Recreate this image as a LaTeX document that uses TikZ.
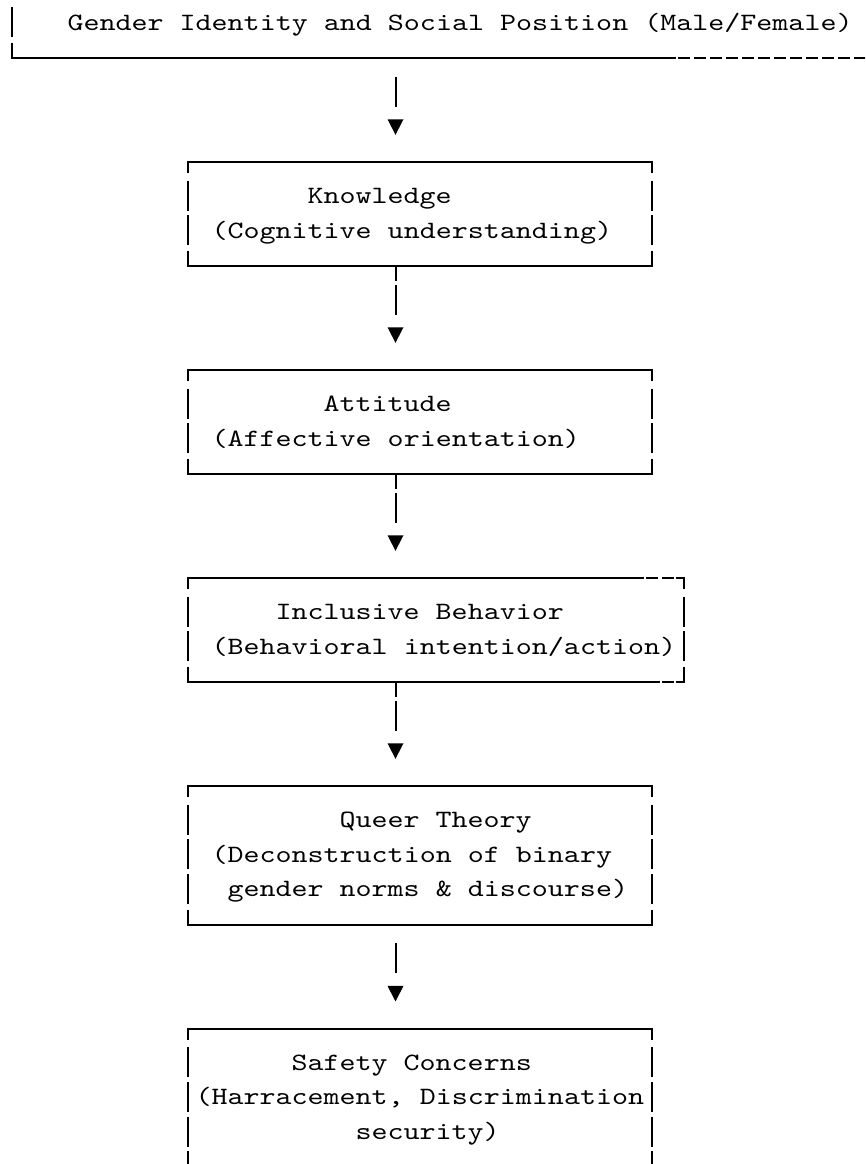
\documentclass[tikz,border=0pt]{standalone}
\usepackage{fontspec}
\newfontfamily\asciifont{lmmono10-regular.otf}[FakeStretch=1.224]
\usetikzlibrary{calc}
\tikzset{
  declare function={cx(\a)=16*\a+11.5; cs(\a)=16*\a+3.5; ry(\a)=23.3+34.667*\a;},
  frame/.style={line width=1.5pt, line cap=butt, draw=black},
  txt/.style={anchor=base west, inner sep=0pt, outer sep=0pt, text=black,
              font=\asciifont\fontsize{18.7}{20}\selectfont},
  tip/.style={fill=black},
}
% vertical sides of a box drawn with box characters: name, left col, right col, top row, bottom row
\newcommand\asciisides[5]{%
  \coordinate (#1-nw) at ({cx(#2)},{ry(#4)});
  \coordinate (#1-se) at ({cx(#3)},{ry(#5)});
  \foreach \xx in {#2,#3}{%
    \draw[frame] ({cx(\xx)},{ry(#4)-1}) -- ({cx(\xx)},{ry(#4)+11.5});
    \draw[frame] ({cx(\xx)},{ry(#5)-15}) -- ({cx(\xx)},{ry(#5)+1});
    \pgfmathtruncatemacro\ra{#4+1}\pgfmathtruncatemacro\rb{#5-1}
    \foreach \kk in {\ra,...,\rb}{\draw[frame] ({cx(\xx)},{ry(\kk)-16}) -- ({cx(\xx)},{ry(\kk)+14});}
  }%
}
% one hyphen in column #1 on row #2
\newcommand\hyph[2]{\draw[frame] ({cs(#1)+2},{ry(#2)}) -- ({cs(#1)+14},{ry(#2)});}
% connector: from coordinate, to coordinate, tee (1) or not (0)
\newcommand\conn[3]{%
  \ifnum#3=1 \draw[frame] (#1) -- ++(0,15);\fi
  \draw[frame] ($(#1)+(0,18.67)$) -- ++(0,30);
  \fill[tip] ($(#2)+(-8,-42.7)$) -- ++(16,0) -- ++(-8,15.5) -- cycle;
}
\begin{document}
\begin{tikzpicture}[x=0.75pt,y=-0.75pt]
\clip (0,0) rectangle (865,1164);
\useasboundingbox (0,0) rectangle (865,1164);

% ---------- Gender box (partly outside) ----------
\draw[frame] ({cx(0)},{ry(0)-16}) -- ({cx(0)},{ry(0)+14});
\draw[frame] ({cx(0)},{ry(1)-15}) -- ({cx(0)},{ry(1)}) -- ({cs(42)},{ry(1)});
\foreach \h in {42,...,53}{\hyph{\h}{1}}
\node[txt] (gender) at ({cs(4)},{ry(0)+7}) {Gender Identity and Social Position (Male/Female)};
\coordinate (g-out) at ({cx(24)},{ry(1)});

% ---------- Knowledge ----------
\asciisides{kn}{11}{40}{4}{7}
\draw[frame] ({cx(11)},{ry(4)}) -- ({cx(40)},{ry(4)});
\draw[frame] ({cx(11)},{ry(7)}) -- ({cx(40)},{ry(7)});
\node[txt] (kn1) at ({cs(19)},{ry(5)+7}) {Knowledge};
\node[txt] (kn2) at ({cs(13)},{ry(6)+7}) {(Cognitive understanding)};
\coordinate (kn-in) at ({cx(24)},{ry(4)});
\coordinate (kn-out) at ({cx(24)},{ry(7)});

% ---------- Attitude ----------
\asciisides{at}{11}{40}{10}{13}
\draw[frame] ({cx(11)},{ry(10)}) -- ({cx(40)},{ry(10)});
\draw[frame] ({cx(11)},{ry(13)}) -- ({cx(40)},{ry(13)});
\node[txt] (at1) at ({cs(20)},{ry(11)+7}) {Attitude};
\node[txt] (at2) at ({cs(13)},{ry(12)+7}) {(Affective orientation)};
\coordinate (at-in) at ({cx(24)},{ry(10)});
\coordinate (at-out) at ({cx(24)},{ry(13)});

% ---------- Inclusive Behavior ----------
\asciisides{ib}{11}{42}{16}{19}
\draw[frame] ({cx(11)},{ry(16)}) -- ({cs(40)},{ry(16)});
\hyph{40}{16}\hyph{41}{16}
\draw[frame] ({cs(42)},{ry(16)}) -- ({cx(42)+0.9},{ry(16)});
\draw[frame] ({cx(11)},{ry(19)}) -- ({cs(41)},{ry(19)});
\hyph{41}{19}
\draw[frame] ({cs(42)},{ry(19)}) -- ({cx(42)+0.9},{ry(19)});
\node[txt] (ib1) at ({cs(17)},{ry(17)+7}) {Inclusive Behavior};
\node[txt] (ib2) at ({cs(13)},{ry(18)+7}) {(Behavioral intention/action)};
\coordinate (ib-in) at ({cx(24)},{ry(16)});
\coordinate (ib-out) at ({cx(24)},{ry(19)});

% ---------- Queer Theory ----------
\asciisides{qt}{11}{40}{22}{26}
\draw[frame] ({cx(11)},{ry(22)}) -- ({cx(40)},{ry(22)});
\draw[frame] ({cx(11)},{ry(26)}) -- ({cx(40)},{ry(26)});
\node[txt] (qt1) at ({cs(21)},{ry(23)+7}) {Queer Theory};
\node[txt] (qt2) at ({cs(13)},{ry(24)+7}) {(Deconstruction of binary};
\node[txt] (qt3) at ({cs(14)},{ry(25)+7}) {gender norms \& discourse)};
\coordinate (qt-in) at ({cx(24)},{ry(22)});
\coordinate (qt-out) at ({cx(24)},{ry(26)});

% ---------- Safety Concerns ----------
\asciisides{sc}{11}{40}{29}{34}
\draw[frame] ({cx(11)},{ry(29)}) -- ({cx(40)},{ry(29)});
\node[txt] (sc1) at ({cs(18)},{ry(30)+7}) {Safety Concerns};
\node[txt] (sc2) at ({cs(12)},{ry(31)+7}) {(Harracement, Discrimination};
\node[txt] (sc3) at ({cs(22)},{ry(32)+7}) {security)};
\coordinate (sc-in) at ({cx(24)},{ry(29)});

% ---------- connectors ----------
\conn{g-out}{kn-in}{0}
\conn{kn-out}{at-in}{1}
\conn{at-out}{ib-in}{1}
\conn{ib-out}{qt-in}{1}
\conn{qt-out}{sc-in}{0}
\end{tikzpicture}
\end{document}
